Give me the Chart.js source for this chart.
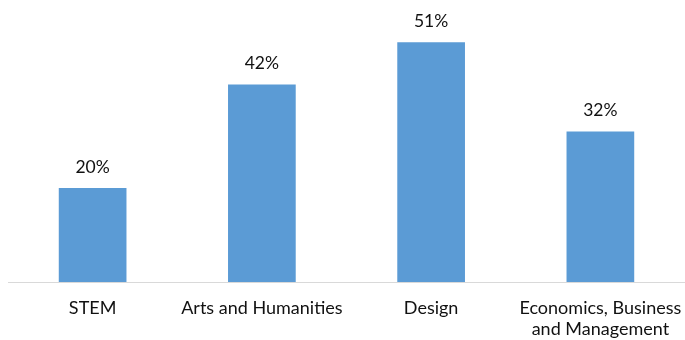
<!DOCTYPE html>
<html>
<head>
<meta charset="utf-8">
<script src="https://cdn.jsdelivr.net/npm/chart.js@4"></script>
<style>
  html, body { margin: 0; padding: 0; background: #fff; }
  #wrap { width: 685px; height: 340px; }
</style>
</head>
<body>
<div id="wrap"><canvas id="chart"></canvas></div>
<script>
const categories = ["STEM", "Arts and Humanities", "Design", ["Economics, Business", "and Management"]];
const shares = [20, 42, 51, 32];

// draw the % above each bar
const valueLabels = {
  id: "valueLabels",
  afterDatasetsDraw(chart) {
    const ctx = chart.ctx;
    const meta = chart.getDatasetMeta(0);
    ctx.save();
    ctx.font = "17.5px Lato";
    ctx.fillStyle = "#111";
    ctx.textAlign = "center";
    ctx.textBaseline = "middle";
    meta.data.forEach((bar, i) => {
      ctx.fillText(shares[i] + "%", bar.x, bar.y - 21);
    });
    ctx.restore();
  }
};

new Chart(document.getElementById("chart"), {
  type: "bar",
  data: {
    labels: categories,
    datasets: [{
      data: shares,
      backgroundColor: "#5b9bd5",
      barPercentage: 0.4,
      categoryPercentage: 1
    }]
  },
  options: {
    responsive: true,
    maintainAspectRatio: false,
    animation: false,
    layout: { padding: { left: 8, right: -3, top: 0, bottom: 0 } },
    plugins: { legend: { display: false }, tooltip: { enabled: false } },
    scales: {
      x: {
        grid: { display: false },
        border: { color: "#d9d9d9", width: 1 },
        ticks: { color: "#111", font: { family: "Lato", size: 18, lineHeight: 1.2 }, padding: 7, maxRotation: 0, autoSkip: false },
        afterFit(scale) {
          // keep the axis band the same height as the original, and let the long label overhang
          scale.height = 58;
          scale.paddingLeft = 0;
          scale.paddingRight = 0;
        }
      },
      y: {
        display: false,
        min: 0,
        max: 60
      }
    }
  },
  plugins: [valueLabels]
});
</script>
</body>
</html>
